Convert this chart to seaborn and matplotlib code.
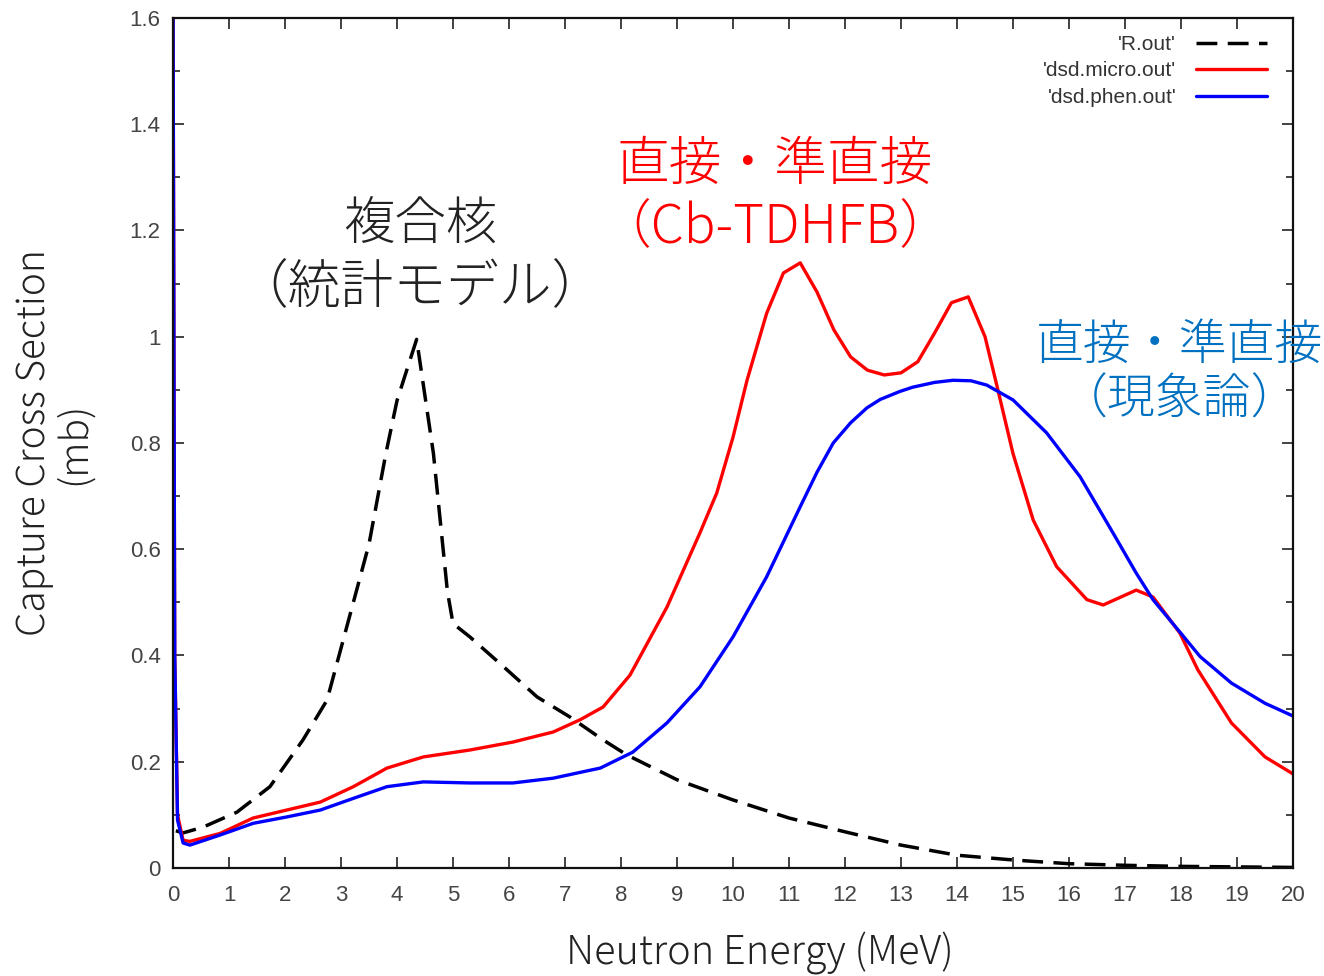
import numpy as np
import pandas as pd
import seaborn as sns
import matplotlib
matplotlib.use("Agg")
import matplotlib.pyplot as plt
from matplotlib.ticker import MultipleLocator, FuncFormatter

# Statistical model (compound nucleus) capture cross section
r_energy = [0.05, 0.18, 0.54, 1.14, 1.73, 2.32, 2.75, 3.22, 3.5, 3.8, 4.0, 4.35,
            4.65, 4.9, 5.0, 5.3, 5.9, 6.5, 7.09, 7.68, 8.1, 9.0, 10.0, 11.0,
            12.0, 13.0, 14.0, 15.0, 16.0, 17.0, 18.0, 19.0, 20.0]
r_sigma = [0.07, 0.066, 0.077, 0.105, 0.153, 0.241, 0.316, 0.50, 0.61, 0.78, 0.88,
           0.995, 0.78, 0.52, 0.46, 0.435, 0.379, 0.322, 0.284, 0.241, 0.213,
           0.166, 0.128, 0.094, 0.068, 0.043, 0.024, 0.015, 0.008, 0.005, 0.003,
           0.002, 0.001]

# Direct / semi-direct capture, microscopic (Cb-TDHFB)
micro_energy = [0.0, 0.03, 0.08, 0.18, 0.3, 0.84, 1.43, 2.03, 2.63, 3.22, 3.82,
                4.47, 5.3, 6.07, 6.79, 7.27, 7.68, 8.16, 8.82, 9.41, 9.71, 10.0,
                10.25, 10.6, 10.9, 11.2, 11.5, 11.8, 12.1, 12.4, 12.7, 13.0, 13.3,
                13.6, 13.9, 14.2, 14.5, 14.7, 15.0, 15.36, 15.78, 16.32, 16.61,
                17.2, 17.5, 17.98, 18.3, 18.9, 19.5, 20.0]
micro_sigma = [1.62, 0.4, 0.1, 0.052, 0.05, 0.065, 0.094, 0.109, 0.124, 0.153,
               0.188, 0.209, 0.222, 0.237, 0.256, 0.279, 0.303, 0.363, 0.491,
               0.631, 0.706, 0.811, 0.918, 1.044, 1.12, 1.139, 1.084, 1.013,
               0.962, 0.937, 0.928, 0.932, 0.953, 1.007, 1.064, 1.075, 1.0,
               0.913, 0.78, 0.655, 0.567, 0.505, 0.495, 0.523, 0.51, 0.442,
               0.373, 0.273, 0.209, 0.177]

# Direct / semi-direct capture, phenomenological
phen_energy = [0.0, 0.03, 0.08, 0.18, 0.3, 0.84, 1.43, 2.03, 2.63, 3.22, 3.82,
               4.47, 5.3, 6.07, 6.79, 7.45, 7.63, 8.21, 8.82, 9.41, 10.0, 10.6,
               11.2, 11.5, 11.79, 12.1, 12.39, 12.63, 12.98, 13.21, 13.6, 13.93,
               14.25, 14.53, 15.0, 15.6, 16.2, 16.8, 17.2, 17.5, 17.98, 18.34,
               18.9, 19.5, 20.0]
phen_sigma = [1.62, 0.4, 0.09, 0.047, 0.043, 0.062, 0.084, 0.096, 0.109, 0.131,
              0.153, 0.162, 0.16, 0.16, 0.169, 0.184, 0.188, 0.218, 0.273, 0.341,
              0.435, 0.548, 0.68, 0.745, 0.80, 0.838, 0.866, 0.882, 0.897, 0.905,
              0.914, 0.918, 0.917, 0.909, 0.881, 0.819, 0.736, 0.628, 0.555,
              0.505, 0.444, 0.398, 0.348, 0.31, 0.286]

series_labels = ["'R.out'", "'dsd.micro.out'", "'dsd.phen.out'"]
x_ticks = list(range(0, 21))
y_ticks = [0, 0.2, 0.4, 0.6, 0.8, 1.0, 1.2, 1.4, 1.6]

sns.set_theme(style="white")
plt.rcParams["font.family"] = ["Noto Sans CJK JP", "DejaVu Sans"]

fig = plt.figure(figsize=(13.24, 9.76), dpi=100)
ax = fig.add_axes([0.1307, 0.1107, 0.8459, 0.8709])

df_r = pd.DataFrame({"E": r_energy, "sigma": r_sigma})
df_m = pd.DataFrame({"E": micro_energy, "sigma": micro_sigma})
df_p = pd.DataFrame({"E": phen_energy, "sigma": phen_sigma})

sns.lineplot(data=df_r, x="E", y="sigma", ax=ax, color="black", lw=2.5,
             label=series_labels[0])
ax.lines[-1].set_dashes((6, 3))
sns.lineplot(data=df_m, x="E", y="sigma", ax=ax, color="#ff0000", lw=2.4,
             label=series_labels[1])
sns.lineplot(data=df_p, x="E", y="sigma", ax=ax, color="#0000ff", lw=2.4,
             label=series_labels[2])

ax.set_xlim(0, 20)
ax.set_ylim(0, 1.6)
ax.set_xticks(x_ticks)
ax.set_yticks(y_ticks)
ax.yaxis.set_minor_locator(MultipleLocator(0.1))
ax.yaxis.set_major_formatter(FuncFormatter(lambda v, p: f"{v:g}"))
ax.tick_params(axis="both", which="both", direction="in", top=True, right=True,
               bottom=True, left=True, colors="#222222", labelcolor="#444444",
               labelsize=16, width=1.2)
ax.tick_params(which="major", length=8)
ax.tick_params(which="minor", length=5)
ax.tick_params(axis="x", which="major", pad=12)
ax.tick_params(axis="y", which="major", pad=9)
for lbl in ax.get_xticklabels() + ax.get_yticklabels():
    lbl.set_family(["Liberation Sans", "DejaVu Sans"])
for s in ax.spines.values():
    s.set_color("#111111")
    s.set_linewidth(1.6)

ax.set_xlabel("Neutron Energy (MeV)", fontsize=28.5, color="#222222",
              labelpad=19, fontweight="light")
ax.xaxis.label.set_x(0.524)
ax.set_ylabel("Capture Cross Section\n(mb)", fontsize=28, color="#222222",
              labelpad=26, linespacing=1.0, fontweight="light")

leg = ax.legend(loc="upper right", bbox_to_anchor=(0.984, 0.99),
                borderaxespad=0.0, frameon=False, markerfirst=False,
                fontsize=15, handlelength=3.4, labelspacing=0.36,
                handletextpad=0.95)
for t in leg.get_texts():
    t.set_color("#333333")
    t.set_family(["Liberation Sans", "DejaVu Sans"])

ax.text(4.41, 1.21, "複合核", color="#222222", fontsize=37, ha="center",
        va="center", fontweight="light")
ax.text(4.41, 1.092, "（統計モデル）", color="#222222", fontsize=38, ha="center",
        va="center", fontweight="light")
ax.text(10.75, 1.323, "直接・準直接", color="#ff0000", fontsize=38, ha="center",
        va="center", fontweight="light")
ax.text(10.75, 1.205, "（Cb-TDHFB）", color="#ff0000", fontsize=38, ha="center",
        va="center", fontweight="light")
ax.text(17.98, 0.984, "直接・準直接", color="#0070c0", fontsize=34.5, ha="center",
        va="center", clip_on=False, fontweight="light")
ax.text(17.98, 0.881, "（現象論）", color="#0070c0", fontsize=34.5, ha="center",
        va="center", clip_on=False, fontweight="light")

fig.savefig("out.png", dpi=100)
